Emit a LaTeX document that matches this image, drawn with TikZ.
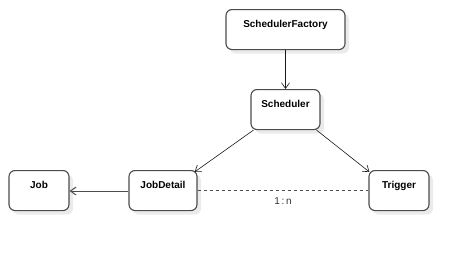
\documentclass[tikz,border=0pt]{standalone}
\usepackage{fontspec}
\setmainfont{Liberation Sans}
\usetikzlibrary{arrows.meta,shadows}

\tikzset{
    cls/.style={draw=black!70, line width=1.1pt, rounded corners=6pt, fill=white,
        inner xsep=2pt, inner ysep=0pt, text height=17.5pt, text depth=22.5pt,
        font=\bfseries\fontsize{10}{12}\selectfont, anchor=north,
        drop shadow={shadow xshift=4pt, shadow yshift=-4pt, fill=black!8, opacity=1}},
    arr/.style={draw=black!90, line width=0.6pt, -{Straight Barb[angle=70:7pt]}},
}

\begin{document}
\begin{tikzpicture}[x=1pt, y=-1pt]
    \useasboundingbox (0,0) rectangle (469,258);

    % classes
    \node[cls, minimum width=119pt] (factory) at (285.5,9) {SchedulerFactory};
    \node[cls, minimum width=69pt] (scheduler) at (285.5,89) {Scheduler};
    \node[cls, minimum width=60pt] (job) at (39,170) {Job};
    \node[cls, minimum width=68pt] (jobdetail) at (163,170) {JobDetail};
    \node[cls, minimum width=60pt] (trigger) at (399,170) {Trigger};

    % relations
    \draw[arr] (factory) -- (scheduler);
    \draw[arr] ([xshift=3pt]scheduler.south west) -- ([shift={(-3pt,-2pt)}]jobdetail.north east);
    \draw[arr] ([xshift=-4pt]scheduler.south east) -- ([shift={(1pt,-2pt)}]trigger.north west);
    \draw[arr, draw=black!70, line width=1pt] (jobdetail.west |- 0,191) -- (job.east |- 0,191);
    \draw[black!70, line width=1pt, dash pattern=on 3pt off 3pt]
        (jobdetail.east |- 0,190) -- node[below=4pt, font=\fontsize{10}{12}\selectfont, black!80] (mult) {1\,:\,n}
        (trigger.west |- 0,190);
\end{tikzpicture}
\end{document}
